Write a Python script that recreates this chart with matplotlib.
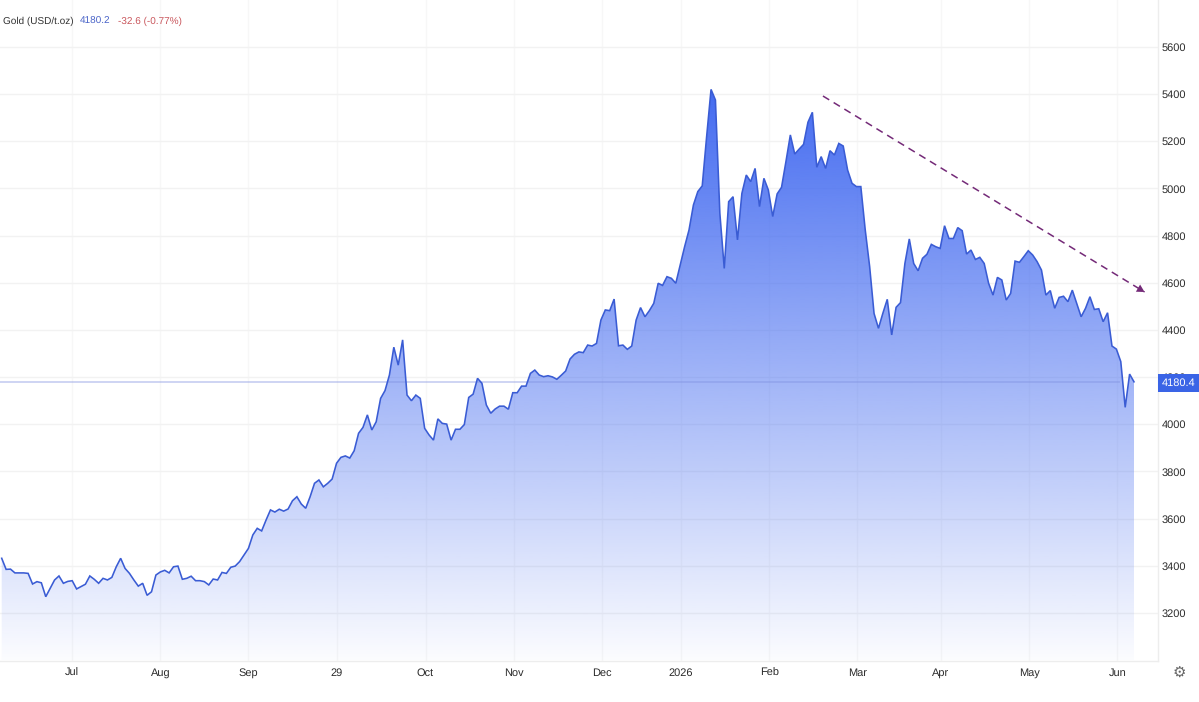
import numpy as np
import matplotlib
matplotlib.use("Agg")
import matplotlib.pyplot as plt
from matplotlib.patches import Polygon, Rectangle

plt.rcParams["font.family"] = ["Liberation Sans", "DejaVu Sans"]
plt.rcParams["text.hinting"] = "no_hinting"
plt.rcParams["text.hinting_factor"] = 1

# Daily gold closes, USD per troy ounce
closes_summer_2025 = [
    3432, 3385, 3386, 3370, 3370, 3370, 3368, 3323, 3333, 3328,
    3269, 3305, 3340, 3357, 3326, 3334, 3337, 3302, 3312, 3322,
    3357, 3343, 3326, 3347, 3340, 3351, 3396, 3432, 3389, 3368,
    3340, 3314, 3326, 3275, 3290, 3361, 3374, 3381, 3370, 3396,
    3399, 3343, 3347, 3356, 3337, 3337, 3333, 3319, 3344, 3340,
    3372, 3368, 3394, 3399, 3418, 3446, 3474, 3531,
]
closes_autumn_2025 = [
    3559, 3548, 3594, 3637, 3628, 3640, 3632, 3641, 3676, 3693, 3662,
    3644, 3693, 3750, 3764, 3735, 3750, 3768, 3835, 3860, 3866, 3857,
    3888, 3962, 3987, 4040, 3976, 4011, 4110, 4143, 4209, 4327, 4251,
    4358, 4124, 4100, 4124, 4110, 3983, 3955, 3933, 4023, 4004, 4001,
    3933, 3979, 3979, 3999, 4114, 4128, 4195, 4174, 4082, 4047, 4065,
    4077, 4077, 4064, 4134, 4134, 4162, 4162, 4216, 4230, 4209,
]
closes_winter = [
    4202, 4206, 4201, 4191, 4208, 4226, 4277, 4297, 4307, 4304, 4336,
    4332, 4343, 4442, 4485, 4482, 4531, 4333, 4336, 4318, 4332, 4442,
    4495, 4456, 4482, 4513, 4598, 4589, 4626, 4619, 4598, 4676, 4753,
    4824, 4930, 4987, 5011, 5220, 5420, 5375, 4895, 4661, 4944, 4965,
    4782, 4979, 5057, 5029, 5085, 4923, 5043, 4994, 4881, 4977, 5005,
    5114, 5227, 5146, 5167, 5187, 5281, 5323, 5090, 5135, 5085, 5160,
    5142, 5191, 5180, 5078, 5022, 5008, 5008, 4824, 4669, 4470, 4407,
    4471, 4530,
]
closes_spring_2026 = [
    4379, 4496, 4516, 4682, 4786, 4682, 4651, 4704, 4721, 4763, 4753,
    4746, 4842, 4788, 4788, 4834, 4821, 4722, 4739, 4699, 4708, 4682,
    4598, 4548, 4623, 4612, 4527, 4555, 4692, 4687, 4711, 4736, 4718,
    4690, 4654, 4548, 4567, 4492, 4538, 4543, 4520, 4569, 4513, 4456,
    4492, 4541, 4487, 4490, 4435, 4473, 4332, 4319, 4266, 4072, 4213,
    4180.2,
]
closes = np.array(closes_summer_2025 + closes_autumn_2025 + closes_winter + closes_spring_2026)
sessions = np.arange(len(closes))

price_ticks = [3200, 3400, 3600, 3800, 4000, 4200, 4400, 4600, 4800, 5000, 5200, 5400, 5600]
month_labels = ["Jul", "Aug", "Sep", "29", "Oct", "Nov", "Dec", "2026", "Feb", "Mar", "Apr", "May", "Jun"]
month_sessions = [16.0, 36.0, 56.0, 76.0, 96.2, 116.2, 136.2, 154.2, 174.2, 194.2, 213.2, 233.2, 253.2]

last_price = 4180.4
trend_start = (186.4, 5392)
trend_end = (259.4, 4561)

W, H = 1199, 702
fig = plt.figure(figsize=(W / 100, H / 100), dpi=100, facecolor="white")
plot_right, plot_bottom = 1158, 660.5
ax = fig.add_axes([0, 1 - plot_bottom / H, plot_right / W, plot_bottom / H])

# Session index runs from x=1.7px to x=1134px across the plot
per_px = (len(closes) - 1) / (1134 - 1.7)
x0, x1 = -1.7 * per_px, (plot_right - 1.7) * per_px
y_per_px = 4.24
y0, y1 = 3200 - (plot_bottom - 613) * y_per_px, 3200 + 613 * y_per_px

# Vertical colour ramp under the price line
ramp_alpha = np.linspace(0.02, 0.98, 256)[::-1]
ramp = np.zeros((256, 1, 4))
ramp[..., 0], ramp[..., 1], ramp[..., 2] = 0x40 / 255, 0x68 / 255, 0xf0 / 255
ramp[..., 3] = ramp_alpha[:, None]
img = ax.imshow(ramp, extent=[x0, x1, y0, closes.max()], aspect="auto",
                origin="upper", zorder=2, interpolation="bilinear")
outline = np.column_stack([np.r_[sessions, sessions[-1], sessions[0]],
                           np.r_[closes, y0, y0]])
clip = Polygon(outline, closed=True, transform=ax.transData, facecolor="none", edgecolor="none")
ax.add_patch(clip)
img.set_clip_path(clip)

ax.plot(sessions, closes, color="#3a5cd4", lw=1.15, zorder=4, solid_joinstyle="miter")

# Reference line at the latest quote
ax.plot([x0, 253.7], [last_price, last_price], color="#7f90e0", alpha=0.38, lw=1.4, zorder=3)

# Downward trend arrow
ax.plot([trend_start[0], trend_end[0]], [trend_start[1], trend_end[1]], color="#742a78",
        lw=1.1, dashes=(4.8, 3.4), zorder=5)
ax.annotate("", xy=trend_end, xytext=(trend_end[0] - 2.0, trend_end[1] + 22),
            arrowprops=dict(arrowstyle="-|>,head_length=0.55,head_width=0.3", color="#742a78",
                            lw=0, shrinkA=0, shrinkB=0), zorder=5)

ax.set_xlim(x0, x1)
ax.set_ylim(y0, y1)
ax.set_xticks(month_sessions, month_labels)
ax.set_yticks(price_ticks, [str(p) for p in price_ticks])
ax.yaxis.tick_right()
ax.tick_params(axis="both", length=0, labelsize=7.7, labelcolor="#2b2b2b")
ax.tick_params(axis="y", pad=2.6)
ax.tick_params(axis="x", pad=5)
ax.grid(True, axis="y", color="#f2f2f2", lw=1)
ax.grid(True, axis="x", color="#f7f7f7", lw=1)
ax.set_axisbelow(True)
for side, spine in ax.spines.items():
    spine.set_visible(side in ("right", "bottom"))
    spine.set_color("#ededed")
    spine.set_linewidth(1)

# Badge with the last quote, sitting over the price scale
badge = Rectangle((plot_right / W, 1 - 392 / H), (W - plot_right) / W, 18.2 / H,
                  transform=fig.transFigure, facecolor="#3a64e6", edgecolor="none",
                  clip_on=False, zorder=6)
ax.add_patch(badge)
ax.text(1178.5 / W, 1 - 383.5 / H, f"{last_price:.1f}", transform=fig.transFigure, color="white",
        fontsize=7.7, ha="center", va="center", zorder=7, clip_on=False)

# Instrument header
fig.text(3 / W, 1 - 21.5 / H, "Gold (USD/t.oz)", color="#333333", fontsize=7.45, va="center")
fig.text(80 / W, 1 - 21.5 / H, f"{closes[-1]:.1f}", color="#4a64c8", fontsize=7.45, va="center")
fig.text(118 / W, 1 - 21.5 / H, "-32.6 (-0.77%)", color="#c9565c", fontsize=7.45, va="center")

# Settings glyph
fig.text(1179 / W, 1 - 674 / H, "\u2699", color="#666666", fontsize=10.5,
         family="DejaVu Sans", ha="center", va="center")

fig.savefig("out.png", dpi=100, facecolor="white")
